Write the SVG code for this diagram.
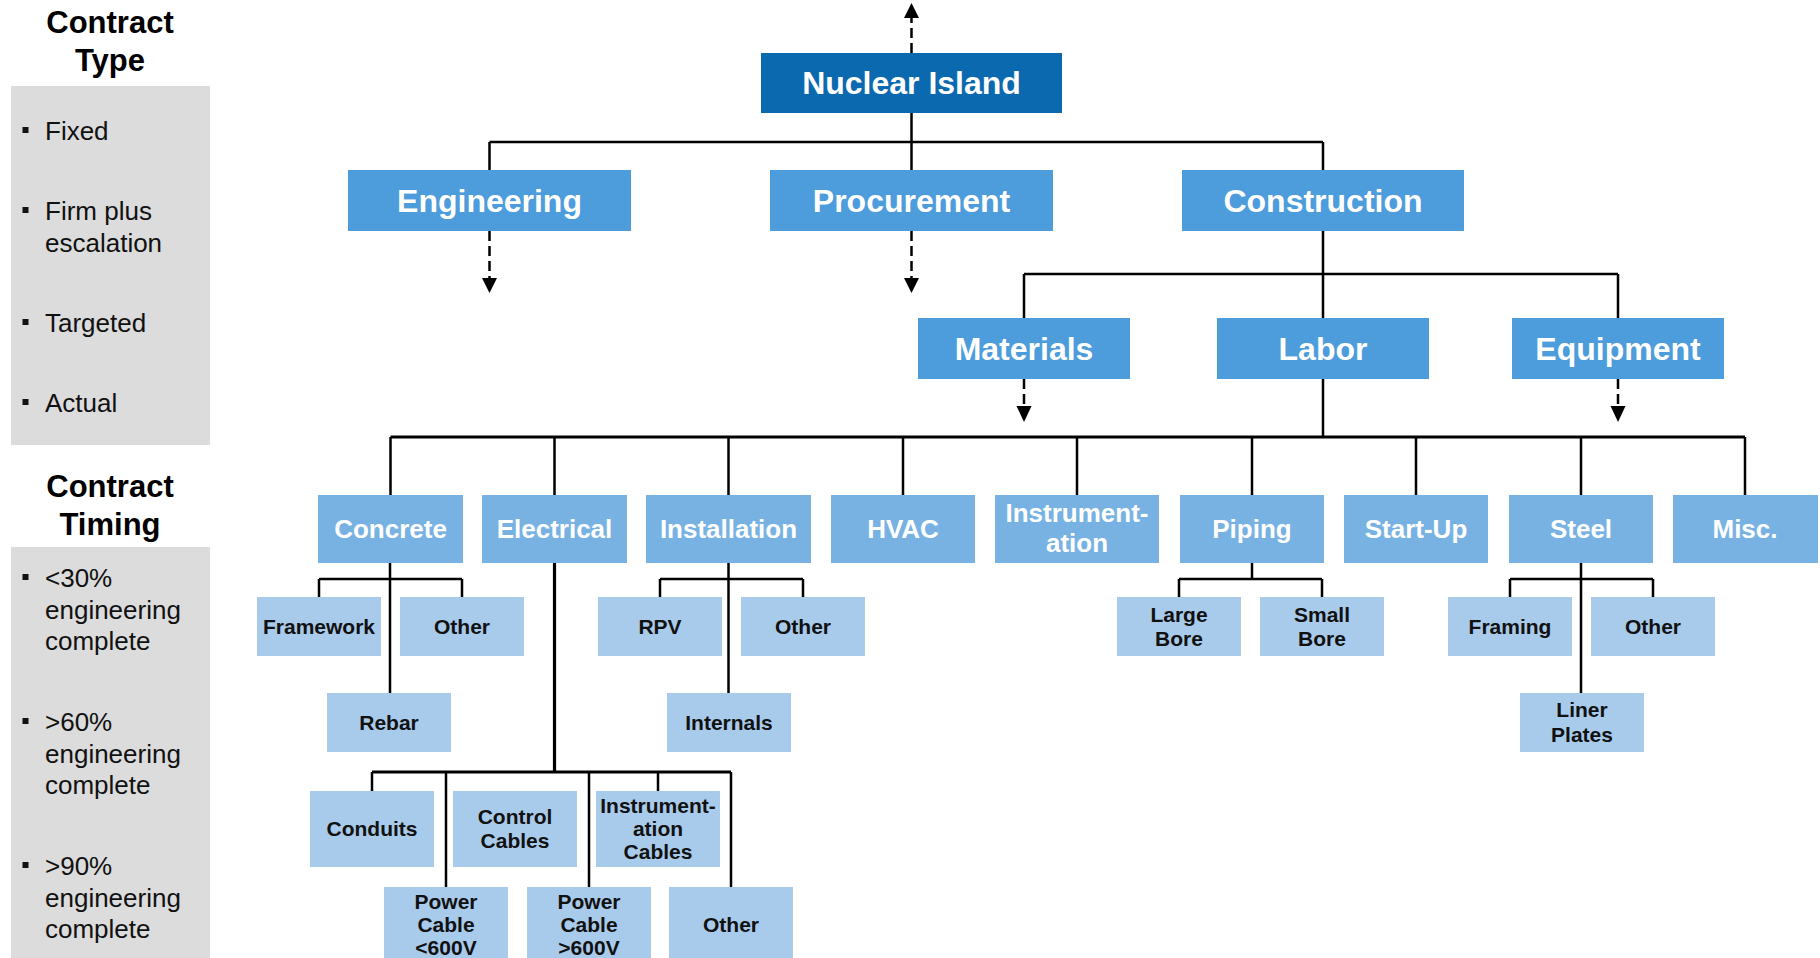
<svg xmlns="http://www.w3.org/2000/svg" width="1820" height="958" viewBox="0 0 1820 958">
  <defs>
    <style>
      text { font-family: "Liberation Sans", Arial, sans-serif; }
      .panel { fill: #dcdcdc; }
      .ptitle { font-size: 31px; font-weight: bold; fill: #000; text-anchor: middle; }
      .pitem { font-size: 26px; fill: #111; }
      .bullet { fill: #111; }
      .n1 { fill: #0b69af; }
      .n2 { fill: #4d9cdb; }
      .n4 { fill: #78b2e2; }
      .n5 { fill: #a8cbec; }
      .t1 { font-size: 32px; font-weight: bold; fill: #fff; text-anchor: middle; }
      .t4 { font-size: 26px; font-weight: bold; fill: #fff; text-anchor: middle; }
      .t5 { font-size: 21px; font-weight: bold; fill: #111; text-anchor: middle; }
      .wire { stroke: #000; stroke-width: 2.5; fill: none; }
      .bus { stroke: #000; stroke-width: 3.2; fill: none; }
      .dash { stroke: #000; stroke-width: 2.5; fill: none; stroke-dasharray: 10 5; }
      .head { fill: #000; }
    </style>
  </defs>

  <rect width="1820" height="958" fill="#fff"/>

  <!-- Side panel: contract type -->
  <g id="contract-type">
    <text class="ptitle" x="110" y="33">Contract</text>
    <text class="ptitle" x="110" y="71">Type</text>
    <rect class="panel" x="11" y="86" width="199" height="359"/>
    <rect class="bullet" x="22.5" y="127" width="6" height="6"/>
    <text class="pitem" x="45" y="140">Fixed</text>
    <rect class="bullet" x="22.5" y="207" width="6" height="6"/>
    <text class="pitem" x="45" y="220">Firm plus</text>
    <text class="pitem" x="45" y="252">escalation</text>
    <rect class="bullet" x="22.5" y="319" width="6" height="6"/>
    <text class="pitem" x="45" y="332">Targeted</text>
    <rect class="bullet" x="22.5" y="399" width="6" height="6"/>
    <text class="pitem" x="45" y="412">Actual</text>
  </g>

  <!-- Side panel: contract timing -->
  <g id="contract-timing">
    <text class="ptitle" x="110" y="497">Contract</text>
    <text class="ptitle" x="110" y="535">Timing</text>
    <rect class="panel" x="11" y="547" width="199" height="413"/>
    <rect class="bullet" x="22.5" y="574" width="6" height="6"/>
    <text class="pitem" x="45" y="587">&lt;30%</text>
    <text class="pitem" x="45" y="619">engineering</text>
    <text class="pitem" x="45" y="650">complete</text>
    <rect class="bullet" x="22.5" y="718" width="6" height="6"/>
    <text class="pitem" x="45" y="731">&gt;60%</text>
    <text class="pitem" x="45" y="763">engineering</text>
    <text class="pitem" x="45" y="794">complete</text>
    <rect class="bullet" x="22.5" y="862" width="6" height="6"/>
    <text class="pitem" x="45" y="875">&gt;90%</text>
    <text class="pitem" x="45" y="907">engineering</text>
    <text class="pitem" x="45" y="938">complete</text>
  </g>

  <!-- Connectors -->
  <g id="connectors">
    <!-- upward link from the top node -->
    <line class="dash" x1="911.5" y1="53" x2="911.5" y2="17"/>
    <polygon class="head" points="904,18 919,18 911.5,3"/>
    <!-- top level -->
    <path class="wire" d="M911.5 113 V170 M489.5 142 H1323 M489.5 142 V170 M1323 142 V170"/>
    <!-- engineering / procurement continuations -->
    <line class="dash" x1="489.5" y1="231" x2="489.5" y2="279"/>
    <polygon class="head" points="482,278 497,278 489.5,293"/>
    <line class="dash" x1="911.5" y1="231" x2="911.5" y2="279"/>
    <polygon class="head" points="904,278 919,278 911.5,293"/>
    <!-- construction split -->
    <path class="wire" d="M1323 231 V318 M1024 274 H1618 M1024 274 V318 M1618 274 V318"/>
    <line class="dash" x1="1024" y1="379" x2="1024" y2="407"/>
    <polygon class="head" points="1016.5,406 1031.5,406 1024,422"/>
    <line class="dash" x1="1618" y1="379" x2="1618" y2="407"/>
    <polygon class="head" points="1610.5,406 1625.5,406 1618,422"/>
    <!-- labor bus -->
    <path class="wire" d="M1323 379 V437"/>
    <path class="bus" d="M390.5 437 H1745"/>
    <path class="wire" d="M390.5 437 V495 M554.5 437 V495 M728.5 437 V495 M903 437 V495 M1077 437 V495 M1252 437 V495 M1416 437 V495 M1581 437 V495 M1745 437 V495"/>
    <!-- concrete -->
    <path class="wire" d="M390 563 V693 M319 579 H462 M319 579 V597 M462 579 V597"/>
    <!-- electrical -->
    <path class="bus" d="M554.5 563 V772 M372 772 H731"/>
    <path class="wire" d="M372 772 V791 M446 772 V887 M589 772 V887 M658 772 V791 M731 772 V887"/>
    <!-- installation -->
    <path class="wire" d="M728.5 563 V693 M660 579 H803 M660 579 V597 M803 579 V597"/>
    <!-- piping -->
    <path class="wire" d="M1252 563 V579 M1179 579 H1322 M1179 579 V597 M1322 579 V597"/>
    <!-- steel -->
    <path class="wire" d="M1581 563 V693 M1510 579 H1653 M1510 579 V597 M1653 579 V597"/>
  </g>

  <!-- Level 1 -->
  <g id="nuclear-island">
    <rect class="n1" x="761" y="53" width="301" height="60"/>
    <text class="t1" x="911.5" y="94">Nuclear Island</text>
  </g>

  <!-- Level 2 -->
  <g id="engineering">
    <rect class="n2" x="348" y="170" width="283" height="61"/>
    <text class="t1" x="489.5" y="212">Engineering</text>
  </g>
  <g id="procurement">
    <rect class="n2" x="770" y="170" width="283" height="61"/>
    <text class="t1" x="911.5" y="212">Procurement</text>
  </g>
  <g id="construction">
    <rect class="n2" x="1182" y="170" width="282" height="61"/>
    <text class="t1" x="1323" y="212">Construction</text>
  </g>

  <!-- Level 3 -->
  <g id="materials">
    <rect class="n2" x="918" y="318" width="212" height="61"/>
    <text class="t1" x="1024" y="360">Materials</text>
  </g>
  <g id="labor">
    <rect class="n2" x="1217" y="318" width="212" height="61"/>
    <text class="t1" x="1323" y="360">Labor</text>
  </g>
  <g id="equipment">
    <rect class="n2" x="1512" y="318" width="212" height="61"/>
    <text class="t1" x="1618" y="360">Equipment</text>
  </g>

  <!-- Level 4: labor trades -->
  <g id="concrete">
    <rect class="n4" x="318" y="495" width="145" height="68"/>
    <text class="t4" x="390.5" y="538">Concrete</text>
  </g>
  <g id="electrical">
    <rect class="n4" x="482" y="495" width="145" height="68"/>
    <text class="t4" x="554.5" y="538">Electrical</text>
  </g>
  <g id="installation">
    <rect class="n4" x="646" y="495" width="165" height="68"/>
    <text class="t4" x="728.5" y="538">Installation</text>
  </g>
  <g id="hvac">
    <rect class="n4" x="831" y="495" width="144" height="68"/>
    <text class="t4" x="903" y="538">HVAC</text>
  </g>
  <g id="instrumentation">
    <rect class="n4" x="995" y="495" width="164" height="68"/>
    <text class="t4" x="1077" y="522">Instrument-</text>
    <text class="t4" x="1077" y="552">ation</text>
  </g>
  <g id="piping">
    <rect class="n4" x="1180" y="495" width="144" height="68"/>
    <text class="t4" x="1252" y="538">Piping</text>
  </g>
  <g id="start-up">
    <rect class="n4" x="1344" y="495" width="144" height="68"/>
    <text class="t4" x="1416" y="538">Start-Up</text>
  </g>
  <g id="steel">
    <rect class="n4" x="1509" y="495" width="144" height="68"/>
    <text class="t4" x="1581" y="538">Steel</text>
  </g>
  <g id="misc">
    <rect class="n4" x="1673" y="495" width="145" height="68"/>
    <text class="t4" x="1745" y="538">Misc.</text>
  </g>

  <!-- Level 5: concrete -->
  <g id="framework">
    <rect class="n5" x="257" y="597" width="124" height="59"/>
    <text class="t5" x="319" y="634">Framework</text>
  </g>
  <g id="concrete-other">
    <rect class="n5" x="400" y="597" width="124" height="59"/>
    <text class="t5" x="462" y="634">Other</text>
  </g>
  <g id="rebar">
    <rect class="n5" x="327" y="693" width="124" height="59"/>
    <text class="t5" x="389" y="730">Rebar</text>
  </g>

  <!-- Level 5: electrical -->
  <g id="conduits">
    <rect class="n5" x="310" y="791" width="124" height="76"/>
    <text class="t5" x="372" y="836">Conduits</text>
  </g>
  <g id="control-cables">
    <rect class="n5" x="453" y="791" width="124" height="76"/>
    <text class="t5" x="515" y="824">Control</text>
    <text class="t5" x="515" y="848">Cables</text>
  </g>
  <g id="instrumentation-cables">
    <rect class="n5" x="596" y="791" width="124" height="76"/>
    <text class="t5" x="658" y="813">Instrument-</text>
    <text class="t5" x="658" y="836">ation</text>
    <text class="t5" x="658" y="859">Cables</text>
  </g>
  <g id="power-cable-low">
    <rect class="n5" x="384" y="887" width="124" height="73"/>
    <text class="t5" x="446" y="909">Power</text>
    <text class="t5" x="446" y="932">Cable</text>
    <text class="t5" x="446" y="955">&lt;600V</text>
  </g>
  <g id="power-cable-high">
    <rect class="n5" x="527" y="887" width="124" height="73"/>
    <text class="t5" x="589" y="909">Power</text>
    <text class="t5" x="589" y="932">Cable</text>
    <text class="t5" x="589" y="955">&gt;600V</text>
  </g>
  <g id="electrical-other">
    <rect class="n5" x="669" y="887" width="124" height="73"/>
    <text class="t5" x="731" y="932">Other</text>
  </g>

  <!-- Level 5: installation -->
  <g id="rpv">
    <rect class="n5" x="598" y="597" width="124" height="59"/>
    <text class="t5" x="660" y="634">RPV</text>
  </g>
  <g id="installation-other">
    <rect class="n5" x="741" y="597" width="124" height="59"/>
    <text class="t5" x="803" y="634">Other</text>
  </g>
  <g id="internals">
    <rect class="n5" x="667" y="693" width="124" height="59"/>
    <text class="t5" x="729" y="730">Internals</text>
  </g>

  <!-- Level 5: piping -->
  <g id="large-bore">
    <rect class="n5" x="1117" y="597" width="124" height="59"/>
    <text class="t5" x="1179" y="622">Large</text>
    <text class="t5" x="1179" y="646">Bore</text>
  </g>
  <g id="small-bore">
    <rect class="n5" x="1260" y="597" width="124" height="59"/>
    <text class="t5" x="1322" y="622">Small</text>
    <text class="t5" x="1322" y="646">Bore</text>
  </g>

  <!-- Level 5: steel -->
  <g id="framing">
    <rect class="n5" x="1448" y="597" width="124" height="59"/>
    <text class="t5" x="1510" y="634">Framing</text>
  </g>
  <g id="steel-other">
    <rect class="n5" x="1591" y="597" width="124" height="59"/>
    <text class="t5" x="1653" y="634">Other</text>
  </g>
  <g id="liner-plates">
    <rect class="n5" x="1520" y="693" width="124" height="59"/>
    <text class="t5" x="1582" y="717">Liner</text>
    <text class="t5" x="1582" y="742">Plates</text>
  </g>
</svg>
